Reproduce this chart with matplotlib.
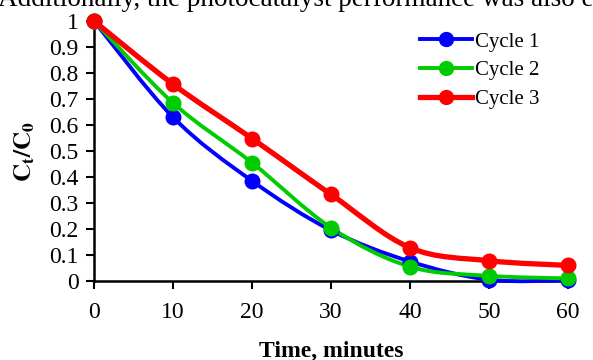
import numpy as np
import matplotlib
matplotlib.use("Agg")
import matplotlib.pyplot as plt
from matplotlib.path import Path
from matplotlib.patches import PathPatch
from matplotlib.lines import Line2D

# ---- data ----
time_min = [0, 10, 20, 30, 40, 50, 60]
cycle1 = [1.0, 0.63, 0.385, 0.195, 0.075, 0.005, 0.003]
cycle2 = [1.0, 0.685, 0.455, 0.205, 0.055, 0.02, 0.01]
cycle3 = [1.0, 0.757, 0.548, 0.333, 0.128, 0.078, 0.06]
series = [("Cycle 1", cycle1, "#0000FF", 2.8),
          ("Cycle 2", cycle2, "#00CC00", 2.8),
          ("Cycle 3", cycle3, "#FF0000", 3.8)]

plt.rcParams['font.family'] = ['Liberation Serif', 'DejaVu Serif']
plt.rcParams['mathtext.fontset'] = 'stix'


def smooth_path(x, y):
    # excel-like smoothed line: bezier with catmull-rom control points
    x = np.asarray(x, float)
    y = np.asarray(y, float)
    n = len(x)
    verts = [(x[0], y[0])]
    codes = [Path.MOVETO]
    for i in range(n - 1):
        p0 = np.array([x[max(i - 1, 0)], y[max(i - 1, 0)]])
        p1 = np.array([x[i], y[i]])
        p2 = np.array([x[i + 1], y[i + 1]])
        p3 = np.array([x[min(i + 2, n - 1)], y[min(i + 2, n - 1)]])
        c1 = p1 + (p2 - p0) / 6.0
        c2 = p2 - (p3 - p1) / 6.0
        verts += [tuple(c1), tuple(c2), tuple(p2)]
        codes += [Path.CURVE4] * 3
    return Path(verts, codes)


fig = plt.figure(figsize=(5.93, 3.6), dpi=100)
ax = fig.add_axes([0.1585, 0.2194, 0.7995, 0.7223])

handles = []
for name, vals, col, lw in series:
    ax.add_patch(PathPatch(smooth_path(time_min, vals), facecolor='none',
                           edgecolor=col, lw=lw, capstyle='round',
                           joinstyle='round', clip_on=False, zorder=3))
    ax.plot(time_min, vals, ls='none', marker='o', ms=10.5, color=col,
            clip_on=False, zorder=4)
    handles.append(Line2D([], [], color=col, lw=lw, marker='o', ms=10,
                          label=name))

ax.set_xlim(0, 60)
ax.set_ylim(0, 1)
ax.set_xticks(np.arange(0, 61, 10))
ax.set_yticks(np.round(np.arange(0, 1.01, 0.1), 1))
ax.set_yticklabels(['0'] + ['%.1f' % v for v in np.arange(0.1, 0.95, 0.1)] + ['1'])
for s in ['top', 'right']:
    ax.spines[s].set_visible(False)
for s in ['left', 'bottom']:
    ax.spines[s].set_linewidth(1.8)
ax.tick_params(axis='both', direction='out', length=6, width=1.5,
               labelsize=17, colors='black')
ax.tick_params(axis='x', pad=9)
ax.tick_params(axis='y', pad=5)

ax.set_xlabel('Time, minutes', fontsize=17, fontweight='bold', labelpad=13)
ax.set_ylabel(r'$\mathbf{C_t/C_0}$', fontsize=18, labelpad=9)

ax.legend(handles=handles, loc='upper right', bbox_to_anchor=(0.98, 1.03),
          frameon=False, fontsize=15, handlelength=2.5, handletextpad=0.15,
          labelspacing=0.45)

fig.text(-0.004, 0.983, 'Additionally, the photocatalyst performance was also e',
         fontsize=19.5, va='baseline', ha='left')

fig.savefig('out.png', dpi=100)
